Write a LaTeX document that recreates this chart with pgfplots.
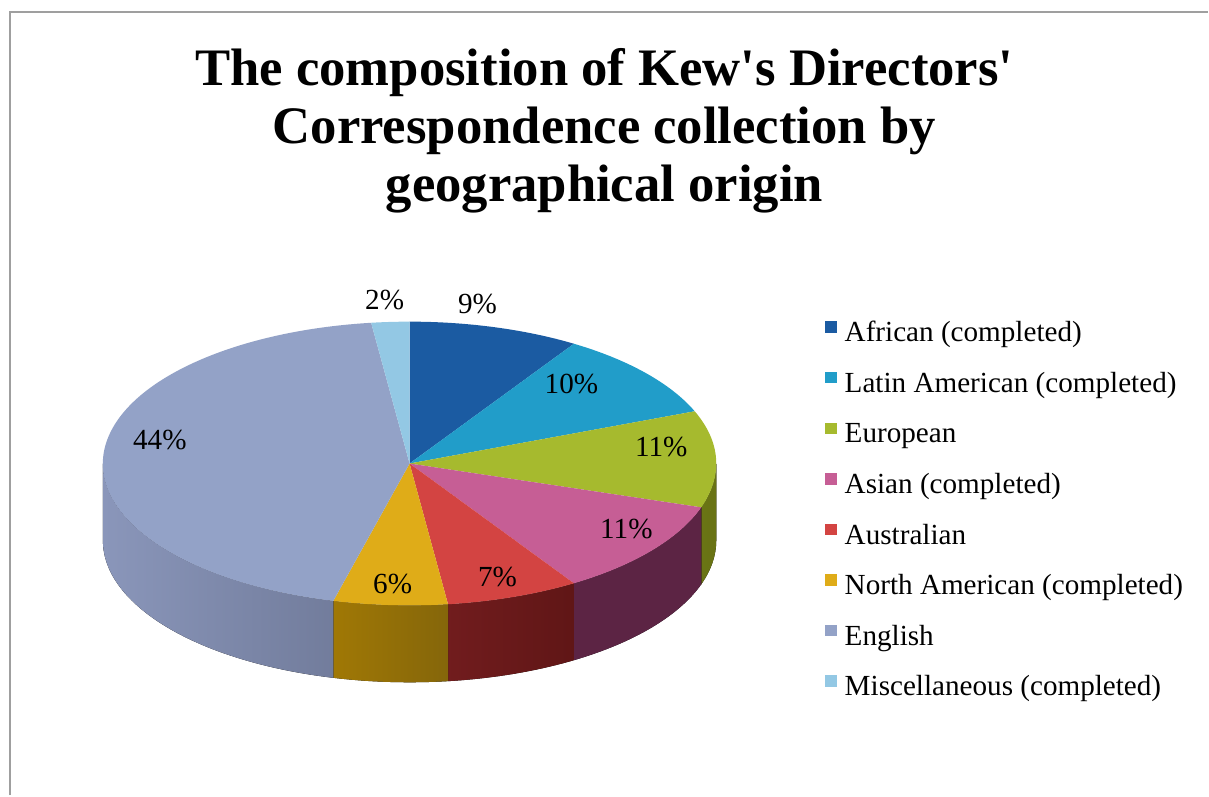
\documentclass[border=0pt]{standalone}
\usepackage{pgfplots}
\pgfplotsset{compat=1.18}
\usepackage{pgfplotstable}
\usepackage{fontspec}
\setmainfont{Liberation Serif}

\definecolor{top0}{RGB}{27,91,162}
\definecolor{top1}{RGB}{33,157,201}
\definecolor{top2}{RGB}{166,186,46}
\definecolor{top3}{RGB}{198,94,149}
\definecolor{top4}{RGB}{211,68,66}
\definecolor{top5}{RGB}{223,172,24}
\definecolor{top6}{RGB}{147,162,199}
\definecolor{top7}{RGB}{147,200,228}
\definecolor{wallL0}{RGB}{15,50,95}
\definecolor{wallR0}{RGB}{15,50,95}
\definecolor{wallL1}{RGB}{20,90,115}
\definecolor{wallR1}{RGB}{20,90,115}
\definecolor{wallL2}{RGB}{118,130,28}
\definecolor{wallR2}{RGB}{105,115,20}
\definecolor{wallL3}{RGB}{92,36,68}
\definecolor{wallR3}{RGB}{92,36,68}
\definecolor{wallL4}{RGB}{118,30,32}
\definecolor{wallR4}{RGB}{96,22,22}
\definecolor{wallL5}{RGB}{160,120,5}
\definecolor{wallR5}{RGB}{133,102,10}
\definecolor{wallL6}{RGB}{138,150,186}
\definecolor{wallR6}{RGB}{106,116,146}
\definecolor{wallL7}{RGB}{90,120,140}
\definecolor{wallR7}{RGB}{90,120,140}

\pgfplotstableread[col sep=comma]{
label,value,lx,ly
African (completed),9,478,492
Latin American (completed),10,572,412
European,11,662,349
Asian (completed),11,627,266
Australian,7,498,218
North American (completed),6,393,211
English,44,160,356
Miscellaneous (completed),2,385,496
}\piedata

\def\cum{0}
\pgfplotsforeachungrouped \i in {0,...,7}{%
  \pgfplotstablegetelem{\i}{value}\of\piedata
  \let\v\pgfplotsretval
  \expandafter\xdef\csname pieV\i\endcsname{\v}%
  \pgfmathsetmacro\a{90-3.6*\cum}%
  \pgfmathsetmacro\cum{\cum+\v}%
  \pgfmathsetmacro\b{90-3.6*\cum}%
  \expandafter\xdef\csname pieA\i\endcsname{\a}%
  \expandafter\xdef\csname pieB\i\endcsname{\b}%
  \pgfmathsetmacro\ws{min(\a,0)}%
  \pgfmathsetmacro\we{max(\b,-180)}%
  \pgfmathtruncatemacro\wf{\ws>\we}%
  \expandafter\xdef\csname pieWS\i\endcsname{\ws}%
  \expandafter\xdef\csname pieWE\i\endcsname{\we}%
  \expandafter\xdef\csname pieWF\i\endcsname{\wf}%
  \pgfplotstablegetelem{\i}{lx}\of\piedata
  \expandafter\xdef\csname pieLX\i\endcsname{\pgfplotsretval}%
  \pgfplotstablegetelem{\i}{ly}\of\piedata
  \expandafter\xdef\csname pieLY\i\endcsname{\pgfplotsretval}%
}

\def\rx{30.7mm}
\def\ry{14.2mm}
\def\dep{7.7mm}

\begin{document}
\begin{tikzpicture}
\begin{axis}[
  width=120.9mm, height=79.6mm, scale only axis,
  xmin=0, xmax=1209, ymin=0, ymax=796,
  hide axis, clip=false,
  legend image code/.code={\fill[#1, draw=none] (0mm,0.9mm) rectangle (1.2mm,2.05mm);},
  legend style={at={(axis description cs:0.674,0.6055)}, anchor=north west,
    draw=none, fill=none, font=\fontsize{8.3pt}{9.9pt}\selectfont,
    nodes={inner sep=0pt, text height=2mm, text depth=0.6mm, anchor=base west},
    row sep=2.41mm, column sep=0.75mm},
  legend cell align=left,
]
\path (axis cs:0,0) rectangle (axis cs:1209,796);
% frame
\draw[gray!75, line width=0.25mm] (axis cs:10,0) -- (axis cs:10,784) -- (axis cs:1209,784);
% walls
\pgfplotsinvokeforeach{0,...,7}{%
  \ifnum\csname pieWF#1\endcsname=1
  \fill[left color=wallL#1, right color=wallR#1]
    (axis cs:410,332) ++(\csname pieWS#1\endcsname:\rx\space and \ry)
    arc[start angle=\csname pieWS#1\endcsname, end angle=\csname pieWE#1\endcsname, x radius=\rx, y radius=\ry]
    -- ++(0,-\dep)
    arc[start angle=\csname pieWE#1\endcsname, end angle=\csname pieWS#1\endcsname, x radius=\rx, y radius=\ry]
    -- cycle;
  \fi
}
% tops
\pgfplotsinvokeforeach{0,...,7}{%
  \fill[top#1] (axis cs:410,332) -- ++(\csname pieA#1\endcsname:\rx\space and \ry)
    arc[start angle=\csname pieA#1\endcsname, end angle=\csname pieB#1\endcsname, x radius=\rx, y radius=\ry]
    -- cycle;
}
% labels
\pgfplotsinvokeforeach{0,...,7}{%
  \node[font=\fontsize{8.3pt}{9.9pt}\selectfont, inner sep=0pt]
    at (axis cs:\csname pieLX#1\endcsname,\csname pieLY#1\endcsname) {\csname pieV#1\endcsname\%};
}
% title
\node[align=center, font=\fontsize{15pt}{16.4pt}\selectfont\bfseries]
  at (axis cs:605,665) {The composition of Kew\textquotesingle s Directors\textquotesingle\\Correspondence collection by\\geographical origin};
\addlegendimage{fill=top0}\addlegendentry{African (completed)}
\addlegendimage{fill=top1}\addlegendentry{Latin American (completed)}
\addlegendimage{fill=top2}\addlegendentry{European}
\addlegendimage{fill=top3}\addlegendentry{Asian (completed)}
\addlegendimage{fill=top4}\addlegendentry{Australian}
\addlegendimage{fill=top5}\addlegendentry{North American (completed)}
\addlegendimage{fill=top6}\addlegendentry{English}
\addlegendimage{fill=top7}\addlegendentry{Miscellaneous (completed)}
\end{axis}
\end{tikzpicture}
\end{document}
